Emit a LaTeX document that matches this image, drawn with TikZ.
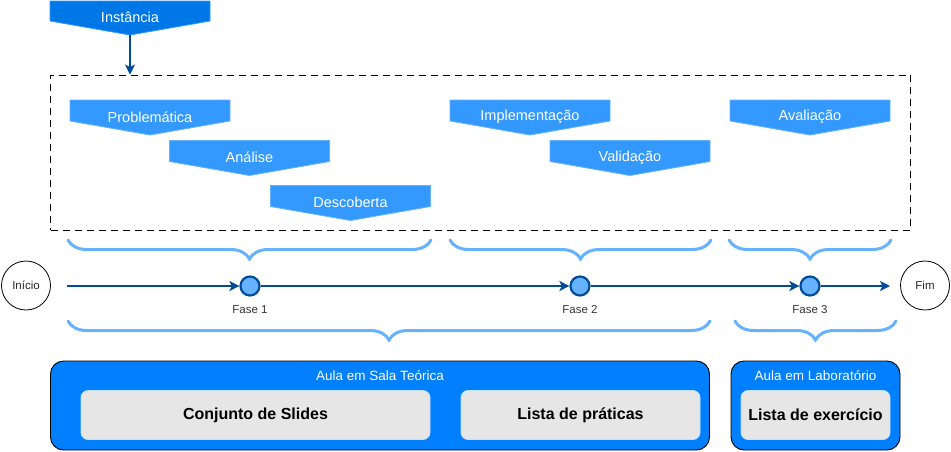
\documentclass[tikz,border=0pt]{standalone}
\usepackage{fontspec}
\setmainfont{Liberation Sans}
\usetikzlibrary{arrows.meta,decorations.pathreplacing,positioning}

\definecolor{azulEscuro}{HTML}{004C99}
\definecolor{azulInst}{HTML}{0077E6}
\definecolor{azulForte}{HTML}{007FFF}
\definecolor{azulMedio}{HTML}{3399FF}
\definecolor{azulClaro}{HTML}{66B2FF}
\definecolor{cinzaCaixa}{HTML}{E6E6E6}

\tikzset{
  etapatexto/.style={inner sep=0pt,text=white,font=\fontsize{14.5}{17}\selectfont},
  fase/.style={circle,draw=azulEscuro,fill=azulClaro,line width=2.2pt,
    minimum size=19pt,inner sep=0pt},
  rotulo/.style={inner sep=0pt,text=black!80,font=\fontsize{11.5}{13}\selectfont},
  terminal/.style={circle,draw=black,line width=0.8pt,minimum size=49pt,inner sep=0pt,
    font=\fontsize{11.5}{13}\selectfont,text=black!85},
  linha/.style={draw=azulEscuro,line width=1.8pt,
    -{Stealth[length=10pt,width=10pt,inset=2.5pt]}},
  chave/.style={draw=azulClaro,line width=3pt,line cap=round,
    decorate,decoration={brace,amplitude=19pt,mirror}},
  sala/.style={draw=black,line width=0.9pt,fill=azulForte,rounded corners=13pt,
    inner sep=0pt,minimum height=89pt},
  titulosala/.style={inner sep=0pt,text=white,font=\fontsize{13.5}{16}\selectfont},
  material/.style={draw=azulClaro!40,line width=0.8pt,fill=cinzaCaixa,rounded corners=7pt,
    minimum height=49pt,inner sep=0pt,font=\bfseries\fontsize{16}{19}\selectfont}
}

% pentagono: nome, x, y (topo), cor, texto
\newcommand{\etapa}[5]{%
  \filldraw[fill=#4,draw=azulClaro,line width=0.8pt] (#2,#3) -- ++(160,0) -- ++(0,21)
    -- ++(-80,14) -- ++(-80,-14) -- cycle;
  \node[etapatexto] (#1) at (#2+80,#3+17) {#5};
}

\begin{document}
\begin{tikzpicture}[x=1pt,y=-1pt]
  \useasboundingbox (0,0) rectangle (951,451);

  % instancia
  \filldraw[fill=azulInst,draw=azulMedio,line width=0.8pt] (50,1) -- ++(160,0) -- ++(0,20)
    -- ++(-80,14) -- ++(-80,-14) -- cycle;
  \node[etapatexto] (inst) at (130,17) {Instância};
  \coordinate (instponta) at (130,35);

  % quadro tracejado
  \node[draw=black,line width=0.9pt,dash pattern=on 7pt off 5pt,minimum width=860pt,
    minimum height=155pt,inner sep=0pt] (quadro) at (480.5,152.5) {};
  \draw[linha] (instponta) -- (instponta |- quadro.north);

  \etapa{prob}{70}{100}{azulMedio}{Problemática}
  \etapa{anal}{169.5}{140.5}{azulMedio}{Análise}
  \etapa{desc}{270.5}{185.5}{azulMedio}{Descoberta}
  \etapa{impl}{450}{100}{azulMedio}{Implementação}
  \etapa{vali}{550}{140.5}{azulMedio}{Validação}
  \etapa{aval}{730}{100}{azulMedio}{Avaliação}

  % chaves
  \draw[chave] (68,240) -- (431,240);
  \draw[chave] (450,240) -- (711,240);
  \draw[chave] (729,240) -- (891,240);
  \draw[chave] (68,321) -- (710,321);
  \draw[chave] (735,321) -- (896,321);

  % linha do tempo
  \node[terminal] (ini) at (26,285.5) {Início};
  \node[terminal] (fim) at (925,285.5) {Fim};
  \coordinate (t0) at (67,286);
  \coordinate (t1) at (890,286);
  \node[fase] (f1) at (250,286) {};
  \node[fase] (f2) at (580,286) {};
  \node[fase] (f3) at (810,286) {};
  \node[rotulo] (lf1) at ([yshift=-24pt]f1.center) {Fase 1};
  \node[rotulo] (lf2) at ([yshift=-24pt]f2.center) {Fase 2};
  \node[rotulo] (lf3) at ([yshift=-24pt]f3.center) {Fase 3};
  \draw[linha] (t0) -- (f1);
  \draw[linha] (f1) -- (f2);
  \draw[linha] (f2) -- (f3);
  \draw[linha] (f3) -- (t1);

  % aulas
  \node[sala,minimum width=659pt] (teorica) at (380,405.5) {};
  \node[titulosala] (tteorica) at (380,376) {Aula em Sala Teórica};
  \node[material,minimum width=349pt] (slides) at (255.5,415) {Conjunto de Slides};
  \node[material,minimum width=239pt] (praticas) at (580.5,415) {Lista de práticas};
  \node[sala,minimum width=169pt] (lab) at (815.5,405.5) {};
  \node[titulosala] (tlab) at (815.5,376) {Aula em Laboratório};
  \node[material,minimum width=149pt] (exerc) at (815.5,415) {Lista de exercício};
\end{tikzpicture}
\end{document}
